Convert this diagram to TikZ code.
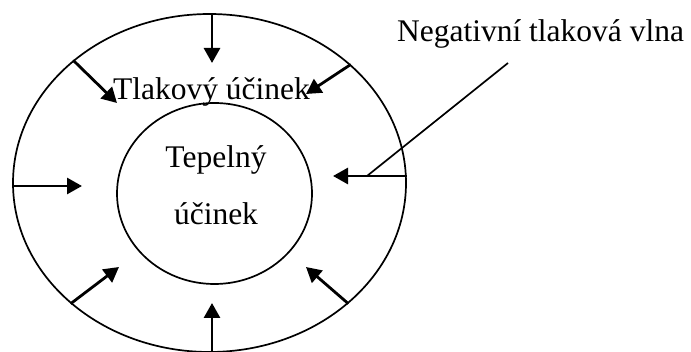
\documentclass[tikz,border=0pt]{standalone}
\usepackage{fontspec}
\setmainfont{Liberation Serif}
\usetikzlibrary{arrows.meta,shapes.geometric}

\begin{document}
\begin{tikzpicture}[x=1pt,y=-1pt,
  zone/.style={ellipse,draw,line width=1.7pt,inner sep=0pt},
  lbl/.style={font=\fontsize{31.5}{57}\selectfont,inner sep=0pt,align=center},
  push/.style={-{Triangle[length=15pt,width=16pt]},line width=2.8pt},
  lead/.style={line width=1.7pt}]
\useasboundingbox (0,0) rectangle (691,352);

\node[zone,minimum width=393pt,minimum height=338pt] (outer) at (209.5,183) {};
\node[zone,minimum width=195pt,minimum height=181pt] (inner) at (214.5,193.5) {};

\node[lbl,anchor=base] (press) at (211.5,100) {Tlakový účinek};
\node[lbl] (heat) at (216,185) {Tepelný\\účinek};
\node[lbl,anchor=base] (wave) at (540.5,42) {Negativní tlaková vlna};

\coordinate (tN) at (212,63);
\coordinate (tNW) at (117,103);
\coordinate (tNE) at (306,94);
\coordinate (tW) at (82,186);
\coordinate (tE) at (333,176);
\coordinate (tSW) at (119,267);
\coordinate (tSE) at (306,267);
\coordinate (tS) at (212,303);

\draw[push] (tN |- outer.north) -- (tN);
\draw[push] (outer.138) -- (tNW);
\draw[push] (outer.40) -- (tNE);
\draw[push] (outer.west |- tW) -- (tW);
\draw[push] (outer.east |- tE) -- (tE);
\draw[push] (outer.221) -- (tSW);
\draw[push] (outer.319) -- (tSE);
\draw[push] (tS |- outer.south) -- (tS);

\coordinate (fork) at (367,176);
\coordinate (ptr) at (508,63);
\draw[lead] (fork) -- (ptr);
\end{tikzpicture}
\end{document}
